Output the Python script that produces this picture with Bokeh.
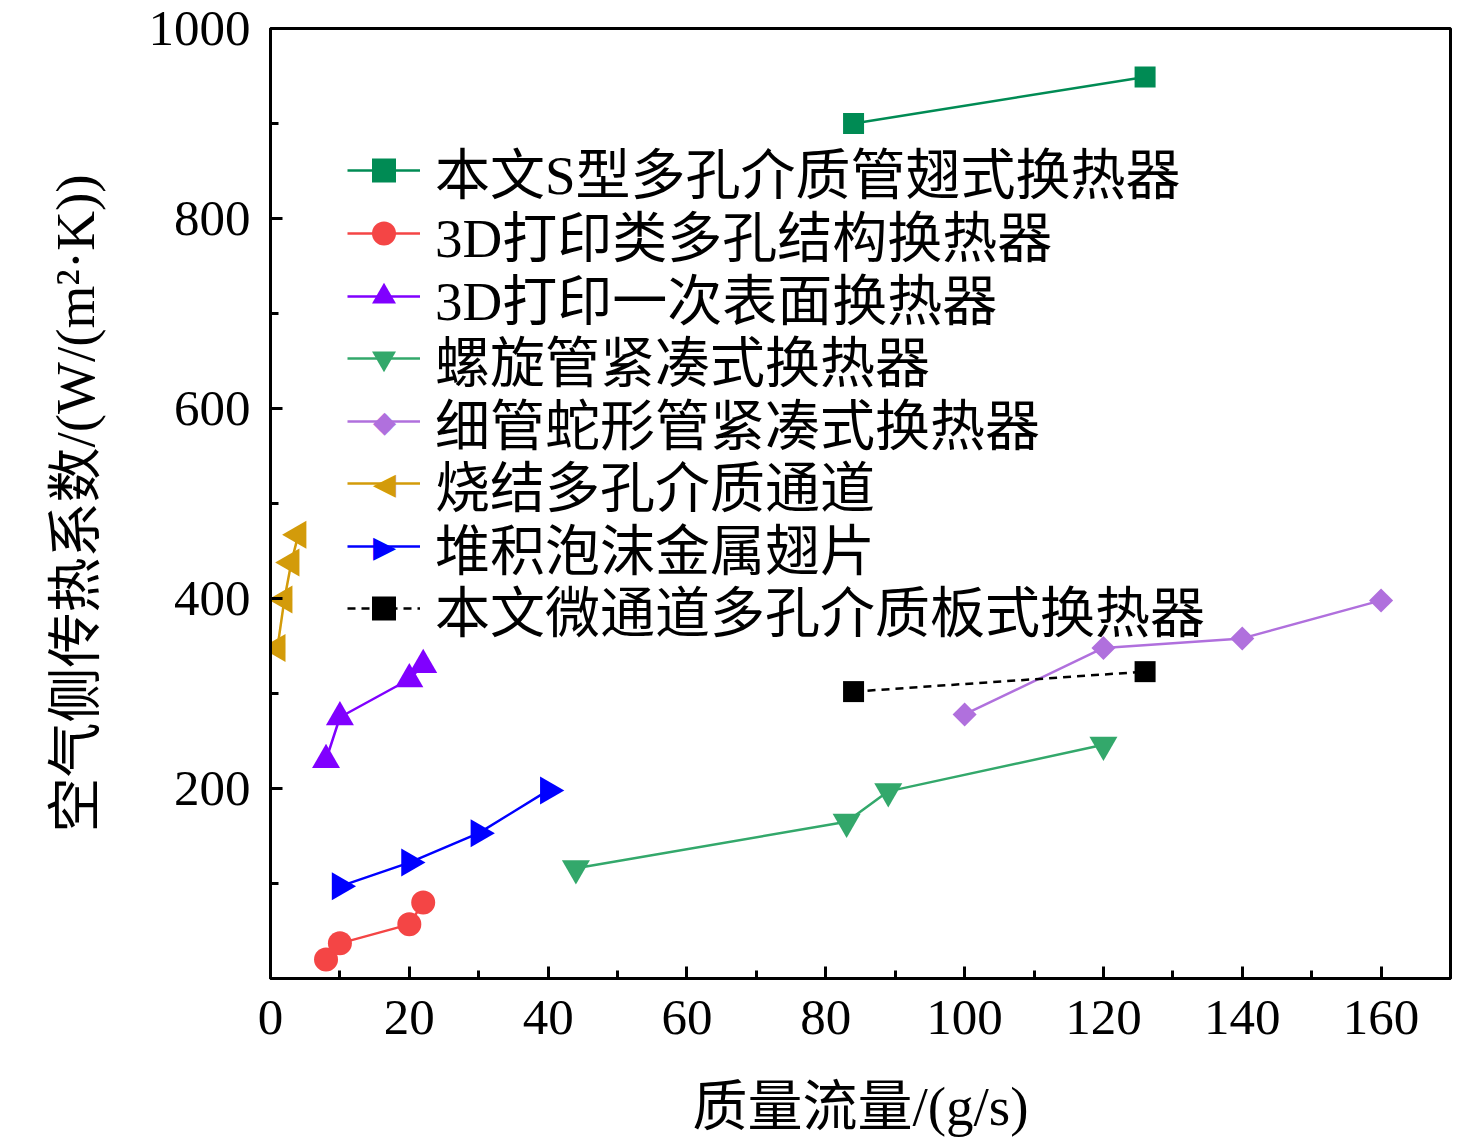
import numpy as np
from bokeh.plotting import figure
from bokeh.models import Range1d, FixedTicker, Legend, LegendItem, Label
from bokeh.embed import file_html
from bokeh.resources import INLINE

FONT = "Liberation Serif, Noto Sans CJK SC"

# data
names = ["本文S型多孔介质管翅式换热器", "3D打印类多孔结构换热器", "3D打印一次表面换热器",
         "螺旋管紧凑式换热器", "细管蛇形管紧凑式换热器", "烧结多孔介质通道",
         "堆积泡沫金属翅片", "本文微通道多孔介质板式换热器"]
s_x = [84, 126]
s_y = [900, 949]
p3d_x = [8, 10, 20, 22]
p3d_y = [20, 37, 57, 80]
surf_x = [8, 10, 20, 22]
surf_y = [230, 275, 315, 330]
helix_x = [44, 83, 89, 120]
helix_y = [116, 165, 197, 246]
serp_x = [100, 120, 140, 160]
serp_y = [278, 348, 358, 398]
sint_x = [1, 2, 3, 4]
sint_y = [348, 399, 438, 467]
foam_x = [10, 20, 30, 40]
foam_y = [97, 122, 153, 198]
micro_x = [84, 126]
micro_y = [302, 323]

x_ticks = [0, 20, 40, 60, 80, 100, 120, 140, 160]
x_minor = [10, 30, 50, 70, 90, 110, 130, 150, 170]
y_ticks = [200, 400, 600, 800, 1000]
y_minor = [100, 300, 500, 700, 900]

W, H = 1460, 1140
p = figure(width=W, height=H, output_backend="svg", toolbar_location=None,
           x_range=Range1d(0, 170), y_range=Range1d(0, 1000),
           min_border_left=270, min_border_right=10, min_border_top=28, min_border_bottom=162)
p.grid.visible = False
p.outline_line_color = "black"
p.outline_line_width = 3
p.background_fill_color = "white"

# (color, marker, size, angle, dash, legend symbol override)
styles = [
    ("#008B54", "square", 21, 0.0, None, None),
    ("#F44545", "circle", 24, 0.0, None, None),
    ("#8000FF", "triangle", 28, 0.0, None, None),
    ("#33A86B", "inverted_triangle", 28, 0.0, None, None),
    ("#B070DD", "square", 17, np.pi / 4, None, "◆"),
    ("#D39B0A", "triangle", 28, np.pi / 2, None, "◀"),
    ("#0000FF", "triangle", 28, -np.pi / 2, None, "▶"),
    ("black", "square", 21, 0.0, "8 6", None),
]
xs_all = [s_x, p3d_x, surf_x, helix_x, serp_x, sint_x, foam_x, micro_x]
ys_all = [s_y, p3d_y, surf_y, helix_y, serp_y, sint_y, foam_y, micro_y]

# legend row centres, px above the frame bottom
row_c = [808, 745, 682, 620, 557, 495, 432, 370]
ITEM_H = 80

legends = []
overlays = []
for i, ((col, mk, sz, ang, dash, sym), xs, ys, nm) in enumerate(zip(styles, xs_all, ys_all, names)):
    kw = dict(line_color=col, line_width=2.5)
    if dash:
        kw["line_dash"] = dash
    r1 = p.line(xs, ys, **kw)
    r2 = p.scatter(xs, ys, marker=mk, size=sz, angle=ang, fill_color=col, line_color=col, line_width=0)
    rends = [r1] if sym else [r1, r2]
    lg = Legend(items=[LegendItem(label=nm, renderers=rends)],
                location=(77, row_c[i] - ITEM_H // 2))
    lg.label_text_font = FONT
    lg.label_text_font_size = "55px"
    lg.label_text_color = "black"
    lg.glyph_width = 73
    lg.glyph_height = 60
    lg.label_height = ITEM_H
    lg.label_standoff = 15
    lg.spacing = 0
    lg.padding = 0
    lg.margin = 0
    lg.border_line_alpha = 0
    lg.background_fill_alpha = 0
    legends.append(lg)
    if sym:
        overlays.append(Label(x=114, y=row_c[i], x_units="screen", y_units="screen", text=sym,
                              text_font="DejaVu Sans", text_font_size="30px", text_color=col,
                              text_align="center", text_baseline="middle"))

for lg in legends:
    p.add_layout(lg, "center")
for lb in overlays:
    p.add_layout(lb)

for ax in (p.xaxis[0], p.yaxis[0]):
    ax.axis_line_width = 3
    ax.major_tick_line_width = 3
    ax.minor_tick_line_width = 3
    ax.major_tick_in = 12
    ax.major_tick_out = 0
    ax.minor_tick_in = 8
    ax.minor_tick_out = 0
    ax.major_label_text_font = FONT
    ax.major_label_text_font_size = "51px"
    ax.major_label_text_color = "black"
    ax.axis_label_text_font = FONT
    ax.axis_label_text_font_size = "55px"
    ax.axis_label_text_font_style = "normal"
    ax.axis_label_text_color = "black"

p.xaxis[0].ticker = FixedTicker(ticks=x_ticks, minor_ticks=x_minor)
p.yaxis[0].ticker = FixedTicker(ticks=y_ticks, minor_ticks=y_minor)
p.xaxis[0].axis_label = "质量流量/(g/s)"
p.yaxis[0].axis_label = "空气侧传热系数/(W/(m²·K))"
p.xaxis[0].major_label_standoff = 22
p.yaxis[0].major_label_standoff = 20
p.xaxis[0].axis_label_standoff = 39
p.yaxis[0].axis_label_standoff = 40

open("out.html", "w").write(file_html(p, INLINE))
